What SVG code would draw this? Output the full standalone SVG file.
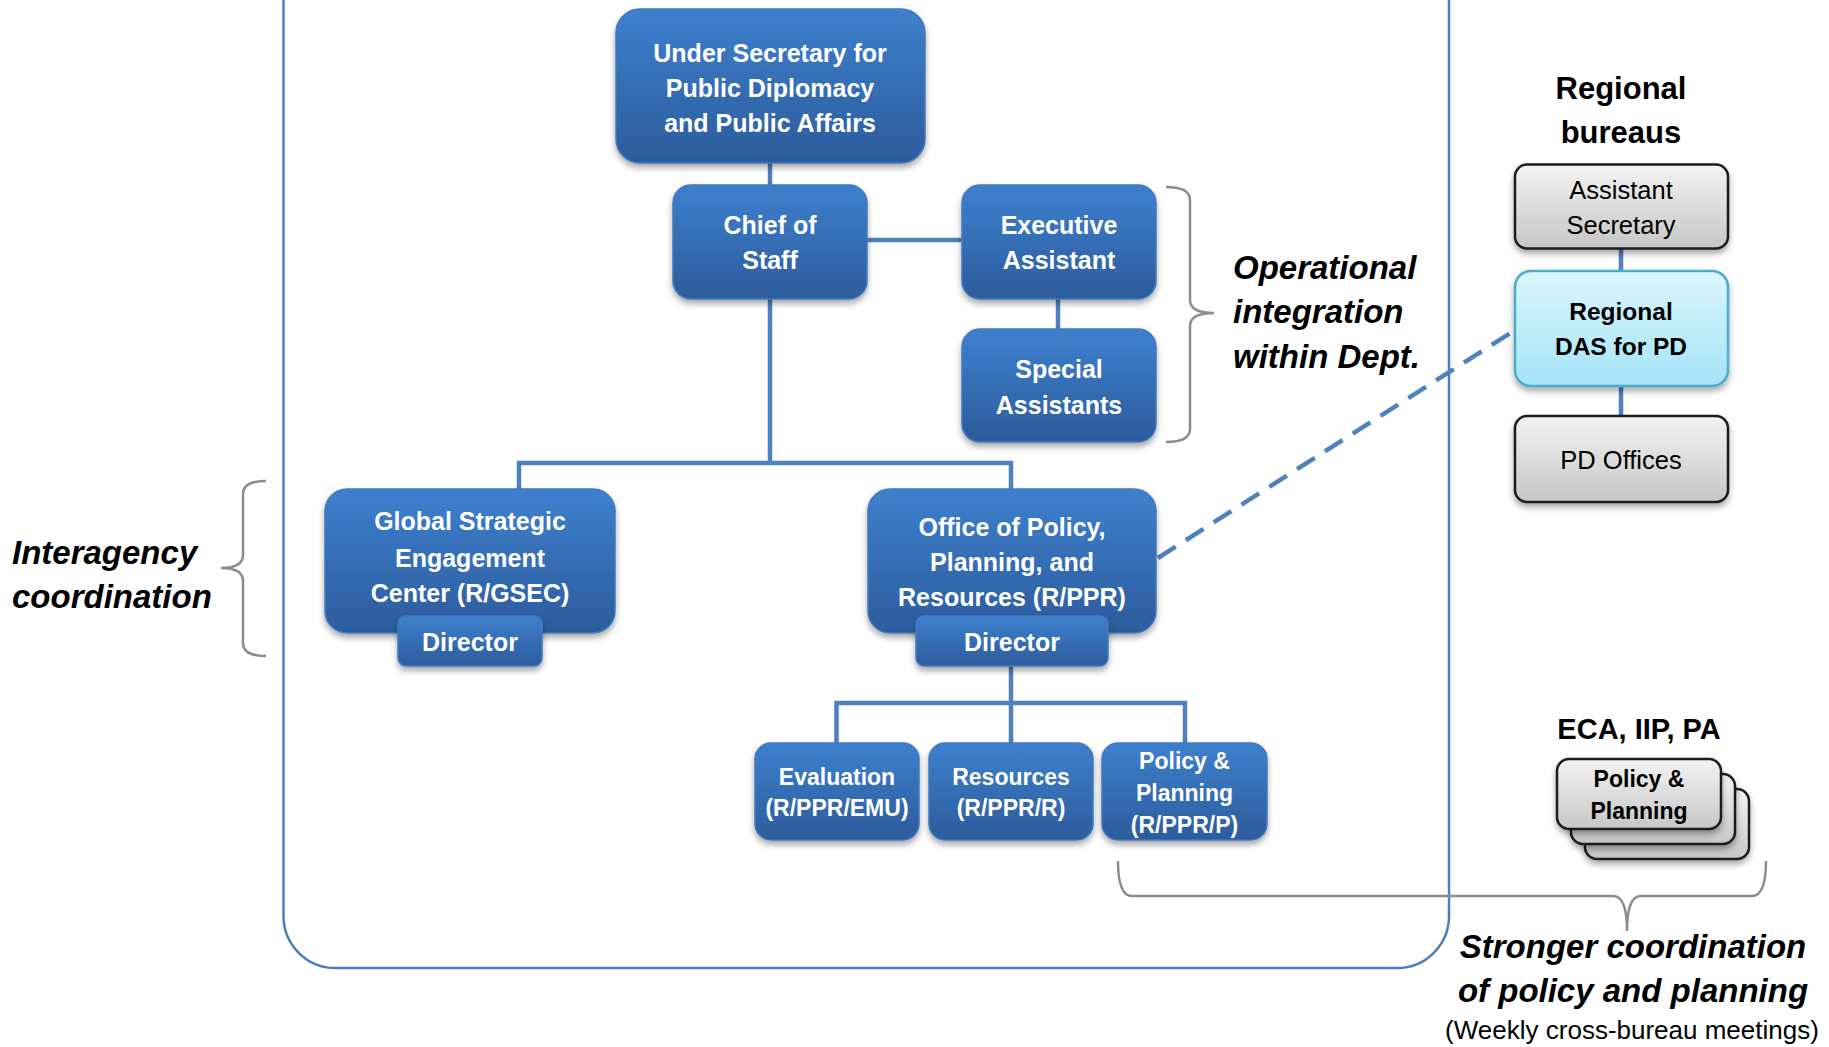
<svg xmlns="http://www.w3.org/2000/svg" width="1829" height="1047" viewBox="0 0 1829 1047">
<defs>
<linearGradient id="blueG" x1="0" y1="0" x2="0" y2="1">
<stop offset="0" stop-color="#3e80ce"/>
<stop offset="1" stop-color="#2c5c9c"/>
</linearGradient>
<linearGradient id="grayG" x1="0" y1="0" x2="0" y2="1">
<stop offset="0" stop-color="#f3f3f3"/>
<stop offset="1" stop-color="#c6c6c6"/>
</linearGradient>
<linearGradient id="cyanG" x1="0" y1="0" x2="0" y2="1">
<stop offset="0" stop-color="#dbf6fd"/>
<stop offset="1" stop-color="#a4e4f7"/>
</linearGradient>
<filter id="sh" x="-10%" y="-10%" width="120%" height="130%">
<feDropShadow dx="0" dy="4" stdDeviation="3" flood-color="#000" flood-opacity="0.35"/>
</filter>
</defs>
<style>
.bn{fill:url(#blueG);stroke:#4279bf;stroke-width:1.5;filter:url(#sh)}
.gn{fill:url(#grayG);stroke:#1c1c1c;stroke-width:2.5;filter:url(#sh)}
.cn{fill:url(#cyanG);stroke:#4bacc6;stroke-width:2.5;filter:url(#sh)}
.wt{font-family:"Liberation Sans",Arial,sans-serif;font-weight:bold;fill:#fff;text-anchor:middle;font-size:25px}
.ws{font-size:23px}
.bk{font-family:"Liberation Sans",Arial,sans-serif;fill:#000;text-anchor:middle}
.b{font-weight:bold}
.bi{font-family:"Liberation Sans",Arial,sans-serif;font-weight:bold;font-style:italic;fill:#000;font-size:33px}
.ln{stroke:#4f81bd;stroke-width:4.5;fill:none}
.br{stroke:#8c8c8c;stroke-width:2.5;fill:none}
</style>
<rect id="container" x="283.5" y="-100" width="1165.5" height="1068" rx="52" fill="none" stroke="#4a7ebb" stroke-width="2.5"/>
<g id="connectors">
<path class="ln" d="M770,163 V185"/>
<path class="ln" d="M867,240 H962"/>
<path class="ln" d="M1058,299 V329"/>
<path class="ln" d="M770,299 V463 M519,489 V463 H1011 V489"/>
<path class="ln" d="M1011,666 V743 M836.5,743 V703 H1185 V743"/>
<path class="ln" d="M1621,248 V272 M1621,386 V416"/>
<path class="ln" d="M1158,558 L1515,330" stroke-dasharray="21,12"/>
</g>
<g id="brackets">
<path class="br" d="M1166,187 Q1190,187 1190,200 L1190,300 Q1190,313 1214,313 Q1190,313 1190,326 L1190,429 Q1190,442 1166,442"/>
<path class="br" d="M266,481 Q243,481 243,494 L243,555 Q243,568 221,568 Q243,568 243,581 L243,643 Q243,656 266,656"/>
<path class="br" d="M1118,861 Q1118,896 1132,896 L1613,896 Q1627,896 1627,931 Q1627,896 1641,896 L1752,896 Q1766,896 1766,861"/>
</g>
<g id="usec">
<rect class="bn" x="616" y="9" width="309" height="154" rx="24"/>
<text class="wt" x="770" y="61.5">Under Secretary for</text>
<text class="wt" x="770" y="96.5">Public Diplomacy</text>
<text class="wt" x="770" y="131.5">and Public Affairs</text>
</g>
<g id="chief">
<rect class="bn" x="673" y="185" width="194" height="114" rx="18"/>
<text class="wt" x="770" y="234">Chief of</text>
<text class="wt" x="770" y="269">Staff</text>
</g>
<g id="exec">
<rect class="bn" x="962" y="185" width="194" height="114" rx="18"/>
<text class="wt" x="1059" y="234">Executive</text>
<text class="wt" x="1059" y="269">Assistant</text>
</g>
<g id="special">
<rect class="bn" x="962" y="329" width="194" height="113" rx="18"/>
<text class="wt" x="1059" y="378">Special</text>
<text class="wt" x="1059" y="414">Assistants</text>
</g>
<g id="gsec">
<rect class="bn" x="325" y="489" width="290" height="144" rx="22"/>
<text class="wt" x="470" y="530">Global Strategic</text>
<text class="wt" x="470" y="566.5">Engagement</text>
<text class="wt" x="470" y="601.5">Center (R/GSEC)</text>
<rect class="bn" x="398" y="616" width="144" height="50" rx="8"/>
<text class="wt" x="470" y="650.5">Director</text>
</g>
<g id="ppr">
<rect class="bn" x="868" y="489" width="288" height="144" rx="22"/>
<text class="wt" x="1012" y="536">Office of Policy,</text>
<text class="wt" x="1012" y="571">Planning, and</text>
<text class="wt" x="1012" y="606">Resources (R/PPR)</text>
<rect class="bn" x="916" y="616" width="192" height="50" rx="8"/>
<text class="wt" x="1012" y="650.5">Director</text>
</g>
<g id="eval">
<rect class="bn" x="755" y="743" width="164" height="97" rx="16"/>
<text class="wt ws" x="837" y="785">Evaluation</text>
<text class="wt ws" x="837" y="816">(R/PPR/EMU)</text>
</g>
<g id="resources">
<rect class="bn" x="929" y="743" width="164" height="97" rx="16"/>
<text class="wt ws" x="1011" y="785">Resources</text>
<text class="wt ws" x="1011" y="816">(R/PPR/R)</text>
</g>
<g id="policy">
<rect class="bn" x="1102" y="743" width="165" height="97" rx="16"/>
<text class="wt ws" x="1184.5" y="768.5">Policy &amp;</text>
<text class="wt ws" x="1184.5" y="801">Planning</text>
<text class="wt ws" x="1184.5" y="833">(R/PPR/P)</text>
</g>
<g id="regional-title">
<text class="bk b" x="1621" y="98.5" font-size="31">Regional</text>
<text class="bk b" x="1621" y="143" font-size="31">bureaus</text>
</g>
<g id="asst-sec">
<rect class="gn" x="1515" y="164.5" width="213" height="84" rx="12"/>
<text class="bk" x="1621" y="199" font-size="25.5">Assistant</text>
<text class="bk" x="1621" y="234" font-size="25.5">Secretary</text>
</g>
<g id="das">
<rect class="cn" x="1515" y="271" width="213" height="115" rx="16"/>
<text class="bk b" x="1621" y="320" font-size="24.5">Regional</text>
<text class="bk b" x="1621" y="355" font-size="24.5">DAS for PD</text>
</g>
<g id="pd-offices">
<rect class="gn" x="1515" y="416" width="213" height="86" rx="12"/>
<text class="bk" x="1621" y="469" font-size="25.5">PD Offices</text>
</g>
<g id="operational-label">
<text class="bi" x="1233" y="279">Operational</text>
<text class="bi" x="1233" y="323">integration</text>
<text class="bi" x="1233" y="368">within Dept.</text>
</g>
<g id="interagency-label">
<text class="bi" x="12" y="564">Interagency</text>
<text class="bi" x="12" y="608">coordination</text>
</g>
<g id="eca">
<text class="bk b" x="1639" y="738.5" font-size="29">ECA, IIP, PA</text>
<rect class="gn" x="1585" y="789" width="164" height="70" rx="12"/>
<rect class="gn" x="1571" y="774" width="164" height="70" rx="12"/>
<rect class="gn" x="1557" y="759" width="164" height="70" rx="12"/>
<text class="bk b" x="1639" y="787" font-size="23">Policy &amp;</text>
<text class="bk b" x="1639" y="819" font-size="23">Planning</text>
</g>
<g id="stronger-label">
<text class="bi" x="1633" y="958" text-anchor="middle" font-size="32.5">Stronger coordination</text>
<text class="bi" x="1633" y="1002" text-anchor="middle" font-size="32.5">of policy and planning</text>
<text class="bk" x="1632" y="1039" font-size="26">(Weekly cross-bureau meetings)</text>
</g>
</svg>
